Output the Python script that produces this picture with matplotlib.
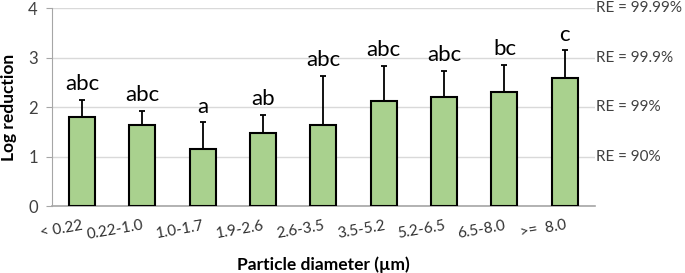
import matplotlib
matplotlib.use("Agg")
import matplotlib.pyplot as plt
import matplotlib.transforms as mtransforms
import numpy as np

categories = ["< 0.22", "0.22-1.0", "1.0-1.7", "1.9-2.6", "2.6-3.5", "3.5-5.2", "5.2-6.5", "6.5-8.0", ">=  8.0"]
means = [1.81, 1.63, 1.15, 1.48, 1.64, 2.13, 2.20, 2.31, 2.59]
err_top = [2.15, 1.92, 1.69, 1.84, 2.63, 2.83, 2.73, 2.85, 3.15]
letters = ["abc", "abc", "a", "ab", "abc", "abc", "abc", "bc", "c"]
re_ticks = [1, 2, 3, 4]
re_labels = ["RE = 90%", "RE = 99%", "RE = 99.9%", "RE = 99.99%"]

plt.rcParams['font.family'] = ['Lato', 'DejaVu Sans']

fig = plt.figure(figsize=(6.85, 2.73), dpi=100)
ax = fig.add_axes([0.0755, 0.2454, 0.7931, 0.7242])

x = np.arange(len(categories))
errs = np.array(err_top) - np.array(means)
ax.bar(x, means, width=0.43, color="#a9d18e", edgecolor="black", linewidth=1.5, zorder=3)
ax.errorbar(x, means, yerr=[np.zeros_like(errs), errs], fmt='none', ecolor='black',
            elinewidth=1.3, capsize=2.5, capthick=1.3, zorder=4)

for xi, top, lab in zip(x, err_top, letters):
    ax.annotate(lab, (xi, top), xytext=(0, 7), textcoords='offset points',
                ha='center', va='baseline', fontsize=16, color='black')

ax.set_xlim(-0.5, len(categories) - 0.5)
ax.set_ylim(0, 4)
ax.set_yticks([0, 1, 2, 3, 4])
ax.tick_params(axis='y', labelsize=12, length=4, color='#a6a6a6', colors='#404040', pad=6)
ax.tick_params(axis='x', length=0, pad=6)
ax.set_xticks(x)
ax.set_xticklabels(categories, rotation=10, fontsize=11, color='#303030',
                   ha='right', va='top', rotation_mode='anchor')
offset = mtransforms.ScaledTranslation(0.0, -0.04, fig.dpi_scale_trans)
for lbl in ax.get_xticklabels():
    lbl.set_transform(lbl.get_transform() + offset)
ax.grid(axis='y', color='#d9d9d9', linewidth=1, zorder=0)

for s in ['top', 'right']:
    ax.spines[s].set_visible(False)
ax.spines['left'].set_color('#a6a6a6')
ax.spines['bottom'].set_color('#a6a6a6')
ax.spines['bottom'].set_linewidth(1.2)

for v, lab in zip(re_ticks, re_labels):
    ax.text(len(categories) - 0.5 + 0.01, v, lab, ha='left', va='center', fontsize=11, color='#404040')

ax.set_ylabel("Log reduction", fontsize=12.5, fontweight='bold')
ax.yaxis.set_label_coords(-0.064, 0.5)
ax.set_xlabel("Particle diameter (\u00b5m)", fontsize=12.5, fontweight='bold', labelpad=10)

fig.savefig("out.png", dpi=100)
